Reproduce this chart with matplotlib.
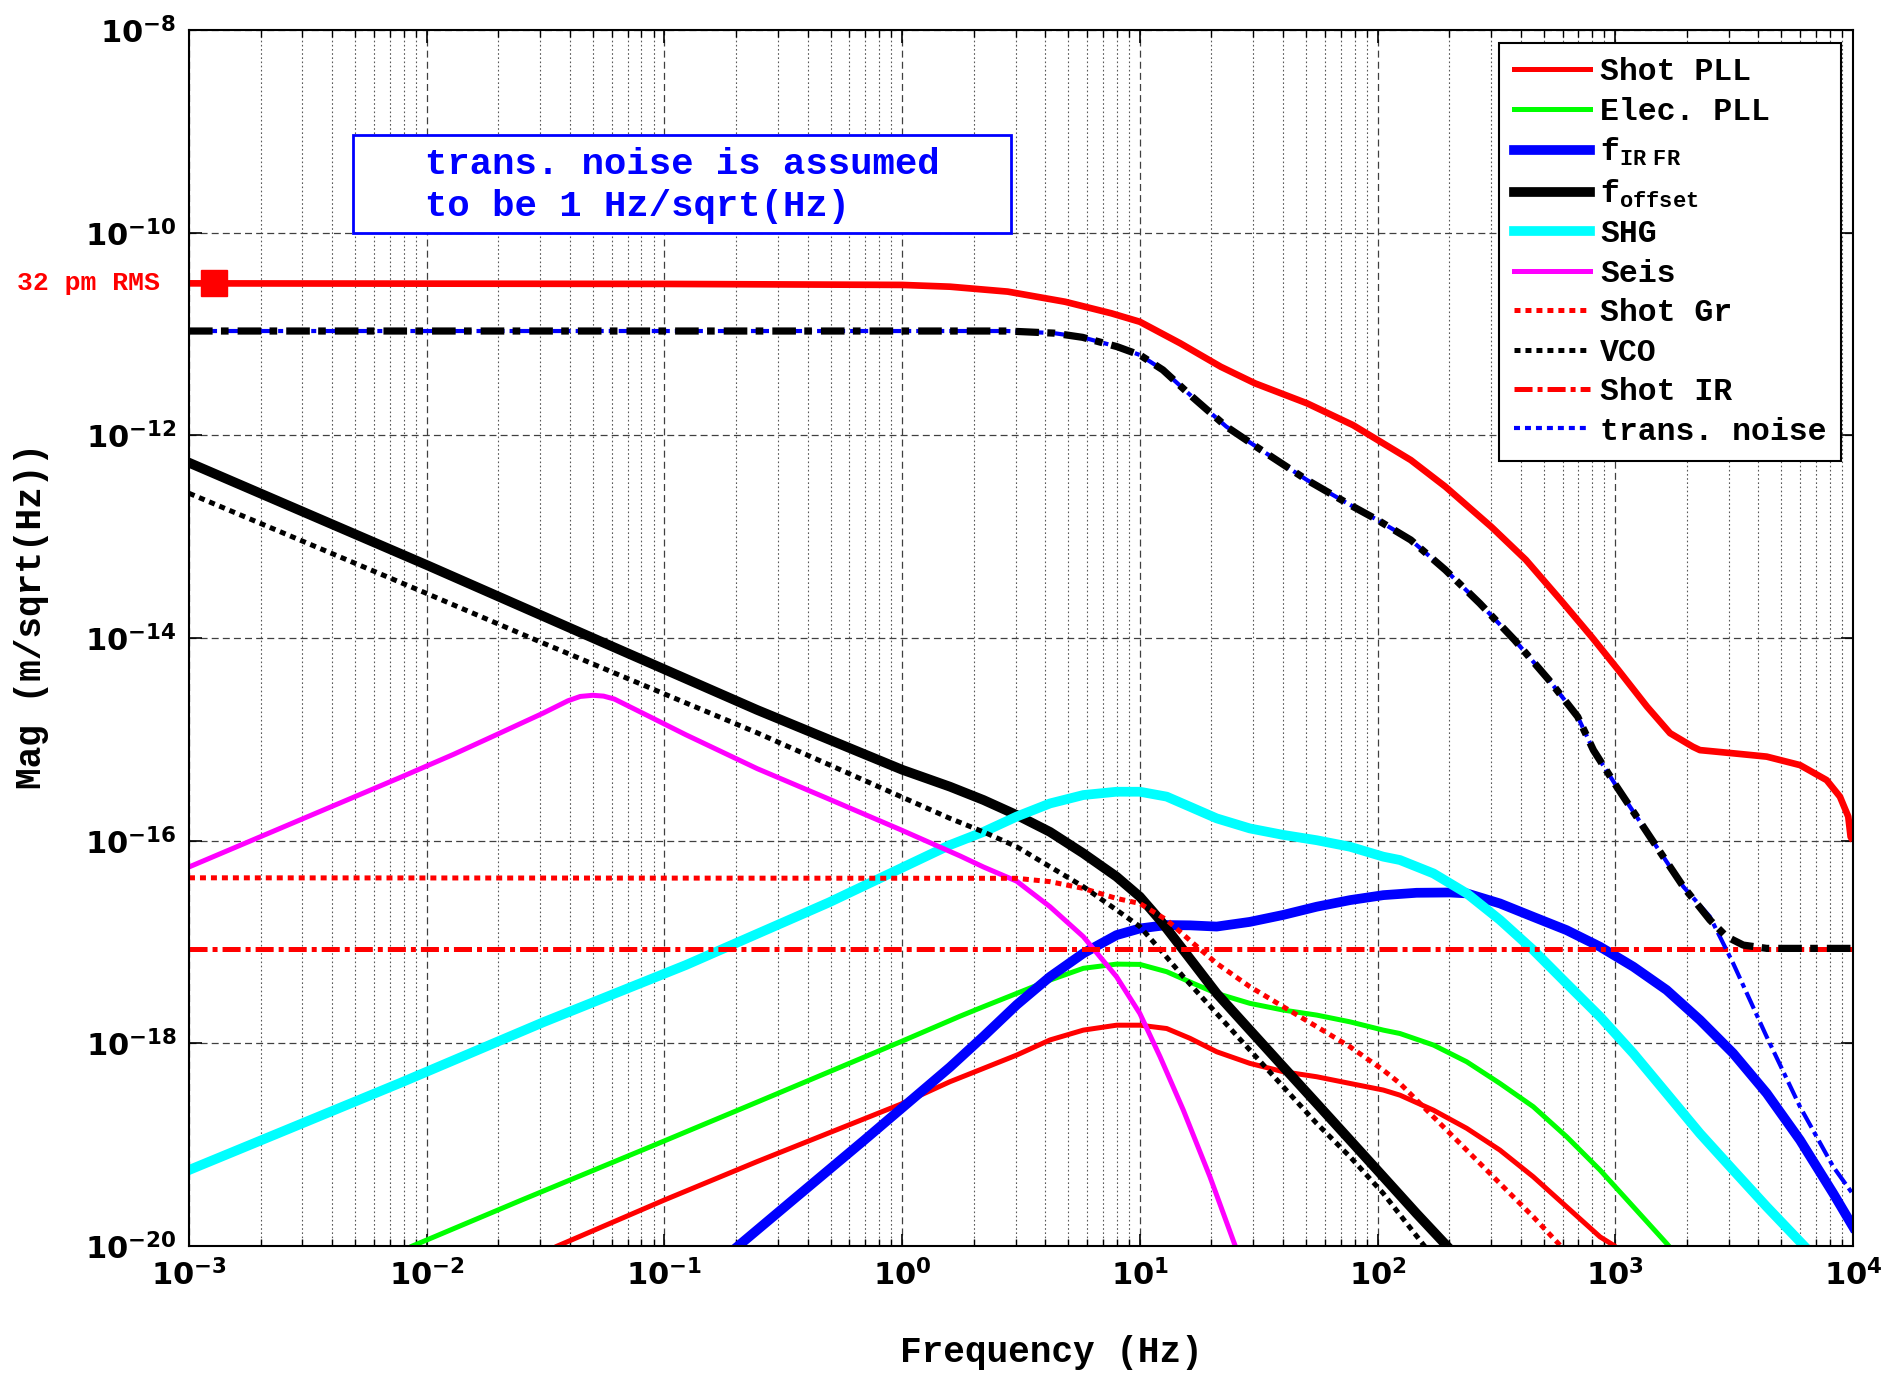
import numpy as np
import matplotlib
matplotlib.use('Agg')
import matplotlib.pyplot as plt
from matplotlib.ticker import LogLocator, FuncFormatter, NullLocator, NullFormatter, FixedLocator
from matplotlib.patches import Rectangle

plt.rcParams['mathtext.fontset'] = 'custom'
plt.rcParams['mathtext.bf'] = 'DejaVu Sans:bold'
plt.rcParams['mathtext.tt'] = 'Liberation Mono:bold'
plt.rcParams['mathtext.rm'] = 'Liberation Mono:bold'
plt.rcParams['lines.scale_dashes'] = False
MONO = 'Liberation Mono'

# ---------------- data ----------------
shot_pll_f = [0.0355, 0.0998, 0.2455, 0.9795, 1.589, 2.198, 3.034, 4.188, 5.781, 7.980, 10.0, 12.97, 16.26, 21.04,
              29.04, 40.09, 55.46, 76.56, 105.7, 124.2, 171.8, 237.1, 327.3, 451.9, 623.7, 863.0, 981.7]
shot_pll_v = [1.0e-20, 2.84e-20, 6.81e-20, 2.49e-19, 4.18e-19, 5.66e-19, 7.66e-19, 1.08e-18, 1.35e-18, 1.51e-18,
              1.51e-18, 1.40e-18, 1.12e-18, 8.26e-19, 6.34e-19, 5.25e-19, 4.68e-19, 4.02e-19, 3.46e-19, 3.08e-19,
              2.19e-19, 1.45e-19, 8.83e-20, 4.82e-20, 2.44e-20, 1.23e-20, 1.02e-20]

elec_pll_f = [0.00871, 0.02506, 0.0869, 0.2455, 0.9795, 1.750, 2.198, 3.034, 4.188, 5.781, 7.980, 10.0, 12.97, 16.79,
              21.04, 29.04, 40.09, 55.46, 76.56, 105.7, 124.2, 171.8, 237.1, 327.3, 451.9, 623.7, 863.0, 1191, 1644,
              1679]
elec_pll_v = [1.0e-20, 2.84e-20, 9.5e-20, 2.63e-19, 1.03e-18, 1.85e-18, 2.30e-18, 3.11e-18, 4.21e-18, 5.50e-18,
              6.05e-18, 6.01e-18, 5.09e-18, 3.90e-18, 3.11e-18, 2.48e-18, 2.13e-18, 1.90e-18, 1.63e-18, 1.35e-18,
              1.25e-18, 9.62e-19, 6.58e-19, 4.02e-19, 2.37e-19, 1.20e-19, 5.61e-20, 2.44e-20, 1.06e-20, 1.0e-20]

fir_f = [0.2042, 0.3467, 0.6934, 1.589, 2.198, 3.034, 4.188, 5.781, 7.980, 10.0, 12.97, 16.26, 21.04, 29.04, 40.09,
         55.46, 76.56, 105.7, 145.9, 201.4, 237.1, 327.3, 451.9, 623.7, 863.0, 1191, 1644, 2270, 3133, 4335, 5984,
         8260, 10000]
fir_v = [1.0e-20, 2.84e-20, 1.11e-19, 5.82e-19, 1.17e-18, 2.40e-18, 4.54e-18, 7.73e-18, 1.17e-17, 1.36e-17,
         1.47e-17, 1.46e-17, 1.42e-17, 1.58e-17, 1.85e-17, 2.23e-17, 2.59e-17, 2.90e-17, 3.06e-17, 3.08e-17,
         3.02e-17, 2.40e-17, 1.77e-17, 1.31e-17, 8.97e-18, 5.70e-18, 3.36e-18, 1.70e-18, 7.96e-19, 3.21e-19,
         1.11e-19, 3.30e-20, 1.55e-20]

foffset_f = [0.001, 0.01, 0.05, 0.2455, 1.0, 1.589, 2.198, 3.034, 4.188, 5.781, 7.980, 10.0, 12.16, 15.24, 21.04,
             29.04, 40.09, 55.46, 76.56, 105.7, 145.9, 199.5]
foffset_v = [5.37e-13, 5.25e-14, 1.0e-14, 1.95e-15, 5.01e-16, 3.41e-16, 2.52e-16, 1.79e-16, 1.22e-16, 7.50e-17,
             4.41e-17, 2.80e-17, 1.65e-17, 8.32e-18, 3.11e-18, 1.35e-18, 5.87e-19, 2.55e-19, 1.11e-19, 4.82e-20,
             2.09e-20, 9.55e-21]

shg_f = [0.001, 0.007727, 0.03083, 0.1230, 0.4909, 1.589, 2.198, 3.034, 4.188, 5.781, 7.980, 10.0, 12.97, 16.26,
         21.04, 29.04, 40.09, 55.46, 76.56, 105.7, 124.2, 171.8, 237.1, 327.3, 451.9, 623.7, 863.0, 1191, 1644,
         2270, 3133, 4335, 6180]
shg_v = [5.62e-20, 4.06e-19, 1.61e-18, 5.92e-18, 2.45e-17, 9.06e-17, 1.22e-16, 1.73e-16, 2.33e-16, 2.82e-16,
         3.04e-16, 3.04e-16, 2.72e-16, 2.16e-16, 1.66e-16, 1.32e-16, 1.14e-16, 1.01e-16, 8.71e-17, 6.95e-17,
         6.44e-17, 4.75e-17, 3.02e-17, 1.65e-17, 8.32e-18, 3.90e-18, 1.83e-18, 7.96e-19, 3.21e-19, 1.29e-19,
         5.61e-20, 2.44e-20, 1.02e-20]

seis_f = [0.001, 0.007727, 0.01297, 0.01963, 0.03083, 0.03926, 0.04426, 0.05, 0.05546, 0.06152, 0.0869, 0.1230,
          0.2455, 0.4909, 0.9795, 1.750, 2.198, 3.034, 4.188, 5.781, 7.980, 10.0, 12.16, 15.24, 19.72, 25.12]
seis_v = [5.50e-17, 4.20e-16, 7.11e-16, 1.11e-15, 1.81e-15, 2.40e-15, 2.65e-15, 2.72e-15, 2.67e-15, 2.50e-15,
          1.67e-15, 1.11e-15, 5.14e-16, 2.58e-16, 1.29e-16, 7.08e-17, 5.50e-17, 3.98e-17, 2.23e-17, 1.13e-17,
          4.54e-18, 1.97e-18, 7.38e-19, 2.19e-19, 4.82e-20, 1.02e-20]

shot_gr_f = [0.001, 3.034, 4.188, 5.781, 7.980, 10.0, 12.97, 16.79, 21.04, 29.04, 40.09, 55.46, 76.56, 105.7, 124.2,
             171.8, 237.1, 327.3, 451.9, 584.8]
shot_gr_v = [4.3e-17, 4.25e-17, 3.94e-17, 3.38e-17, 2.69e-17, 2.40e-17, 1.65e-17, 9.68e-18, 6.15e-18, 3.62e-18,
             2.30e-18, 1.46e-18, 9.25e-19, 5.44e-19, 4.02e-19, 1.88e-19, 8.83e-20, 4.14e-20, 1.94e-20, 1.02e-20]

vco_f = [0.001, 0.01, 0.02877, 0.2455, 1.589, 2.198, 3.034, 4.188, 5.781, 7.980, 10.0, 12.56, 15.24, 21.04, 29.04,
         40.09, 55.46, 76.56, 105.7, 150.7, 158.5]
vco_v = [2.68e-13, 2.75e-14, 9.55e-15, 1.16e-15, 1.66e-16, 1.22e-16, 8.71e-17, 5.53e-17, 3.52e-17, 2.07e-17,
         1.42e-17, 7.73e-18, 4.54e-18, 1.97e-18, 8.57e-19, 3.73e-19, 1.62e-19, 7.60e-20, 3.30e-20, 1.14e-20, 9.8e-21]

shot_ir_f = [0.001, 10000]
shot_ir_v = [8.6e-18, 8.6e-18]

trans_f = [0.001, 1.0, 2.78, 4.35, 5.74, 8.02, 10.0, 12.5, 16.6, 23.1, 32.4, 50.5, 78.9, 100, 138, 193, 269, 377,
           526, 695, 809, 1014, 1400, 1932, 2500, 3133, 4335, 5984, 8260, 10000]
trans_v = [1.07e-11, 1.07e-11, 1.07e-11, 1.02e-11, 9.27e-12, 7.50e-12, 6.21e-12, 4.42e-12, 2.40e-12, 1.22e-12,
           7.16e-13, 3.62e-13, 1.98e-13, 1.46e-13, 9.27e-14, 4.69e-14, 2.20e-14, 9.55e-15, 3.85e-15, 1.67e-15,
           7.83e-16, 3.41e-16, 1.09e-16, 3.52e-17, 1.78e-17, 6.15e-18, 1.16e-18, 2.37e-19, 6.05e-20, 3.24e-20]

total_ir_f = [0.001, 1.0, 2.78, 4.35, 5.74, 8.02, 10.0, 12.5, 16.6, 23.1, 32.4, 50.5, 78.9, 100, 138, 193, 269, 377,
              526, 695, 809, 1014, 1400, 1932, 2500, 2938, 3451, 4335, 10000]
total_ir_v = [1.07e-11, 1.07e-11, 1.07e-11, 1.02e-11, 9.27e-12, 7.50e-12, 6.21e-12, 4.42e-12, 2.40e-12, 1.22e-12,
              7.16e-13, 3.62e-13, 1.98e-13, 1.46e-13, 9.27e-14, 4.69e-14, 2.20e-14, 9.55e-15, 3.85e-15, 1.67e-15,
              7.83e-16, 3.41e-16, 1.09e-16, 3.52e-17, 1.65e-17, 1.13e-17, 9.33e-18, 8.65e-18, 8.65e-18]

total_pll_f = [0.001, 0.1, 1.0, 1.59, 2.78, 4.85, 7.59, 10.0, 14.8, 21.9, 30.5, 50.5, 78.9, 100, 138, 193, 301,
               421, 589, 800, 1030, 1360, 1700, 2120, 2270, 3133, 4335, 5984, 7745, 8810, 9550, 9772, 10000]
total_pll_v = [3.16e-11, 3.12e-11, 3.05e-11, 2.93e-11, 2.62e-11, 2.08e-11, 1.60e-11, 1.32e-11, 8.09e-12, 4.75e-12,
               3.26e-12, 2.07e-12, 1.26e-12, 9.0e-13, 5.70e-13, 3.11e-13, 1.25e-13, 5.89e-14, 2.37e-14, 1.01e-14,
               4.83e-15, 2.10e-15, 1.15e-15, 8.45e-16, 7.83e-16, 7.28e-16, 6.75e-16, 5.57e-16, 3.96e-16, 2.72e-16,
               1.73e-16, 1.09e-16, 1.0e-16]

rms_f = [1.28e-3]
rms_v = [3.2e-11]
rms_label = '32 pm RMS'

legend_labels = ['Shot PLL', 'Elec. PLL', r'$\mathtt{f_{IR\ FR}}$', r'$\mathtt{f_{offset}}$', 'SHG', 'Seis',
                 'Shot Gr', 'VCO', 'Shot IR', 'trans. noise']
note_lines = ['trans. noise is assumed', 'to be 1 Hz/sqrt(Hz)']
xlabel = 'Frequency (Hz)'
ylabel = 'Mag (m/sqrt(Hz))'
ytick_vals = [1e-20, 1e-18, 1e-16, 1e-14, 1e-12, 1e-10, 1e-8]

# ---------------- styles ----------------
DOT = (0, (4.3, 3.6))
DASHDOT = (0, (13, 3.6, 3.6, 3.6))
DASHDOT_THICK = (0, (17, 6, 5.5, 6.5))
THIN = 3.6
THICK = 7.0

fig = plt.figure(figsize=(18.85, 13.73), dpi=100)
ax = fig.add_axes([189 / 1885, 127 / 1373, 1664 / 1885, 1216 / 1373])
ax.set_xscale('log')
ax.set_yscale('log')

h = []
h += ax.plot(shot_pll_f, shot_pll_v, color='#ff0000', lw=THIN)
h += ax.plot(elec_pll_f, elec_pll_v, color='#00ff00', lw=THIN)
h += ax.plot(fir_f, fir_v, color='#0000ff', lw=THICK)
h += ax.plot(foffset_f, foffset_v, color='#000000', lw=THICK)
h += ax.plot(shg_f, shg_v, color='#00ffff', lw=THICK)
h += ax.plot(seis_f, seis_v, color='#ff00ff', lw=THIN)
h += ax.plot(shot_gr_f, shot_gr_v, color='#ff0000', lw=THIN, linestyle=DOT)
h += ax.plot(vco_f, vco_v, color='#000000', lw=THIN, linestyle=DOT)
h += ax.plot(shot_ir_f, shot_ir_v, color='#ff0000', lw=THIN, linestyle=DASHDOT)
h += ax.plot(trans_f, trans_v, color='#0000ff', lw=3.0, linestyle=DASHDOT)
ax.plot(total_ir_f, total_ir_v, color='#000000', lw=5.2, linestyle=DASHDOT_THICK)
ax.plot(total_pll_f, total_pll_v, color='#ff0000', lw=4.8, solid_capstyle='butt')
ax.plot(rms_f, rms_v, linestyle='none', marker='s', markersize=18.5, color='#ff0000')

ax.set_xlim(1e-3, 1e4)
ax.set_ylim(1e-20, 1e-8)
ax.xaxis.set_major_locator(LogLocator(base=10, numticks=20))
ax.xaxis.set_minor_locator(LogLocator(base=10, subs=np.arange(2, 10), numticks=100))
ax.xaxis.set_minor_formatter(NullFormatter())
ax.yaxis.set_major_locator(FixedLocator(ytick_vals))
ax.yaxis.set_minor_locator(NullLocator())
fmt = FuncFormatter(lambda v, p: r'$\mathbf{10^{%d}}$' % int(round(np.log10(v))))
ax.xaxis.set_major_formatter(fmt)
ax.yaxis.set_major_formatter(fmt)

ax.set_axisbelow(True)
ax.grid(True, which='major', axis='both', linestyle=(0, (5, 3)), color='0.25', lw=0.9)
ax.grid(True, which='minor', axis='x', linestyle=(0, (1.2, 1.8)), color='0.35', lw=0.8)
ax.tick_params(which='both', direction='in', top=True, right=True)
ax.tick_params(which='major', length=9, width=1.2, labelsize=22, pad=9)
ax.tick_params(which='minor', length=5, width=1.0)
for s in ax.spines.values():
    s.set_linewidth(1.5)

ax.set_xlabel(xlabel, fontsize=26, fontfamily=MONO, fontweight='bold', va='center')
ax.xaxis.set_label_coords((1051 - 189) / 1664, (1246 - 1352) / 1216)
ax.set_ylabel(ylabel, fontsize=26, fontfamily=MONO, fontweight='bold', va='center')
ax.yaxis.set_label_coords((32 - 189) / 1664, (1246 - 616) / 1216)

fig.text(17 / 1885, 1 - 283 / 1373, rms_label, color='#ff0000', fontsize=19, fontfamily=MONO,
         fontweight='bold', ha='left', va='center')

# annotation box
ax.add_patch(Rectangle(((353 - 189) / 1664, (1246 - 233) / 1216), 658 / 1664, 98 / 1216,
                       transform=ax.transAxes, facecolor='white', edgecolor='#0000ff', lw=2.0, zorder=20))
for i, line in enumerate(note_lines):
    ax.text((425 - 189) / 1664, (1246 - (165 + 42 * i)) / 1216, line, transform=ax.transAxes,
            color='#0000ff', fontsize=26.8, fontfamily=MONO, fontweight='bold', ha='left', va='center',
            zorder=21)

leg = ax.legend(h, legend_labels, loc='upper right', bbox_to_anchor=((1841 - 189) / 1664, (1246 - 43) / 1216),
                borderaxespad=0, prop=dict(family=MONO, weight='bold', size=22.7), handlelength=2.43,
                handletextpad=0.32, labelspacing=0.3, borderpad=0.45, fancybox=False, edgecolor='k',
                framealpha=1)
leg.get_frame().set_linewidth(1.5)
leg.set_zorder(30)
leg.get_lines()[-1].set_linestyle(DOT)

fig.savefig('out.png', dpi=100)
